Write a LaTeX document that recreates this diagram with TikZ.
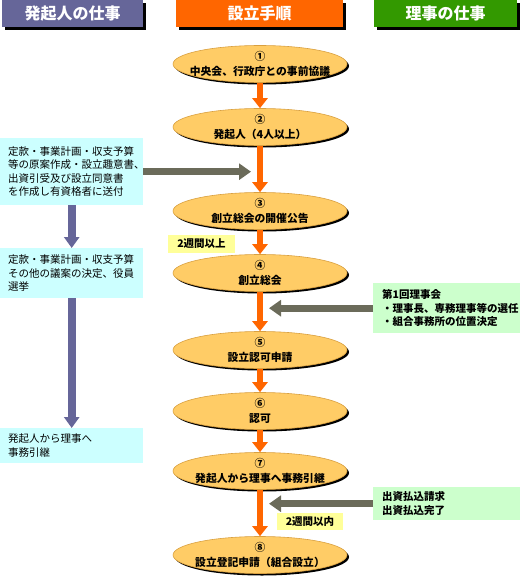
\documentclass[tikz,border=0pt]{standalone}
\usepackage{fontspec}
\setmainfont{Noto Sans CJK JP}
\usetikzlibrary{shapes.geometric,shadows,arrows.meta,positioning}

\definecolor{leadgray}{HTML}{666699}
\definecolor{procorange}{HTML}{FF6600}
\definecolor{boardgreen}{HTML}{339900}
\definecolor{stepfill}{HTML}{FFCC66}
\definecolor{stepedge}{HTML}{D9A040}
\definecolor{leftfill}{HTML}{CCFFFF}
\definecolor{rightfill}{HTML}{CCFFCC}
\definecolor{notefill}{HTML}{FFFF99}
\definecolor{feedgray}{HTML}{6B6B5A}

\begin{document}
\begin{tikzpicture}[
    x=1pt, y=-1pt,
    font=\fontsize{10.5}{13.5}\selectfont,
    header/.style={minimum height=27pt, inner sep=0pt, text=white,
      font=\fontsize{16}{16}\selectfont\bfseries,
      drop shadow={shadow xshift=3pt, shadow yshift=-3pt, fill=black, opacity=1}},
    procstep/.style={ellipse, fill=stepfill, draw=stepedge, line width=0.6pt,
      minimum width=174pt, minimum height=37pt, inner sep=0pt,
      drop shadow={shadow xshift=2pt, shadow yshift=-2pt, fill=black, opacity=1}},
    steptext/.style={align=center, inner sep=0pt,
      font=\fontsize{10.8}{15}\selectfont\bfseries},
    leftbox/.style={fill=leftfill, anchor=north west, minimum width=143pt,
      text width=127pt, inner xsep=8pt, inner ysep=0pt, align=left},
    rightbox/.style={fill=rightfill, anchor=north west, minimum width=146pt,
      text width=130pt, inner xsep=9pt, inner ysep=0pt, align=left,
      font=\fontsize{10.5}{13.5}\selectfont\bfseries},
    interval/.style={fill=notefill, inner sep=0pt,
      font=\fontsize{10.5}{10.5}\selectfont\bfseries},
    flow/.style={draw=procorange, line width=6pt,
      -{Triangle[width=15pt,length=10pt]}},
    handover/.style={draw=leadgray, line width=8pt,
      -{Triangle[width=15pt,length=11pt]}},
    report/.style={draw=feedgray, line width=7pt,
      -{Triangle[width=16pt,length=12pt]}, shorten >=9pt},
  ]
  \useasboundingbox (0,0) rectangle (519,580);

  % Column headers
  \node[header, fill=leadgray, minimum width=141pt] (HL) at (72.5,13.5) {発起人の仕事};
  \node[header, fill=procorange, minimum width=167pt] (HC) at (259.5,13.5) {設立手順};
  \node[header, fill=boardgreen, minimum width=143pt] (HR) at (445.5,13.5) {理事の仕事};

  % Procedure steps
  \foreach \i/\y/\text in {1/64/{①\\中央会、行政庁との事前協議},
                           2/127/{②\\発起人（4人以上）},
                           3/211/{③\\創立総会の開催公告},
                           4/273/{④\\創立総会},
                           5/350/{⑤\\設立認可申請},
                           6/411/{⑥\\認可},
                           7/471/{⑦\\発起人から理事へ事務引継},
                           8/555/{⑧\\設立登記申請（組合設立）}}
    \node[procstep, label={[steptext]center:\text}] (E\i) at (260,\y) {};

  % Flow between steps
  \foreach \a/\b in {1/2, 2/3, 3/4, 4/5, 5/6, 6/7, 7/8}
    \draw[flow] (E\a.south) -- (E\b.north);

  % Founders' work
  \node[leftbox, minimum height=67pt] (L1) at (0,138)
    {定款・事業計画・収支予算\\等の原案作成・設立趣意書、\\出資引受及び設立同意書\\を作成し有資格者に送付};
  \node[leftbox, minimum height=50pt] (L2) at (0,248)
    {定款・事業計画・収支予算\\その他の議案の決定、役員\\選挙};
  \node[leftbox, minimum height=35pt] (L3) at (0,428)
    {発起人から理事へ\\事務引継};

  \draw[handover] (L1.south) -- (L2.north);
  \draw[handover] (L2.south) -- (L3.north);
  \draw[report] (L1.east) -- (L1.east -| E2.south);

  % Directors' work
  \node[rightbox, minimum height=50pt] (R1) at (373,283)
    {第1回理事会\\・理事長、専務理事等の選任\\・組合事務所の位置決定};
  \node[rightbox, minimum height=33pt] (R2) at (373,487)
    {出資払込請求\\出資払込完了};

  \draw[report] (R1.west) -- (R1.west -| E4.south);
  \draw[report] (R2.west) -- (R2.west -| E7.south);

  % Time limits
  \node[interval, minimum width=67pt, minimum height=18pt] (I1) at (201.5,244) {2週間以上};
  \node[interval, minimum width=66pt, minimum height=17pt] (I2) at (310,521.5) {2週間以内};
\end{tikzpicture}
\end{document}
